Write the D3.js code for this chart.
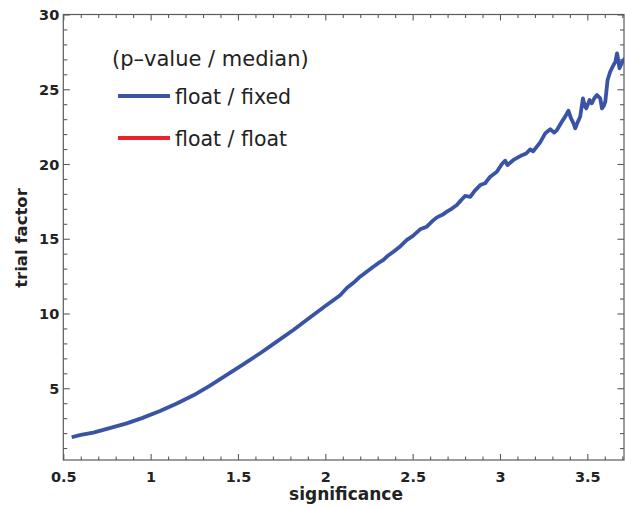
<!DOCTYPE html>
<html>
<head>
<meta charset="utf-8">
<script src="https://cdn.jsdelivr.net/npm/d3@7"></script>
<style>
  html, body { margin: 0; padding: 0; background: #fff; }
  svg { display: block; }
  text { font-family: "DejaVu Sans", sans-serif; fill: #222; }
</style>
</head>
<body>
<svg id="chart" width="625" height="508"></svg>
<script>
// ---------- data ----------
const significance = [0.548,0.60,0.672,0.75,0.863,0.95,1.054,1.15,1.245,1.34,1.436,1.53,1.627,1.72,1.817,1.91,2.008,2.085,2.123,2.161,2.199,2.237,2.275,2.305,2.333,2.36,2.39,2.43,2.467,2.50,2.543,2.581,2.61,2.639,2.67,2.696,2.725,2.753,2.775,2.80,2.83,2.855,2.887,2.915,2.944,2.982,3.011,3.030,3.043,3.077,3.116,3.15,3.173,3.19,3.211,3.23,3.259,3.27,3.288,3.31,3.326,3.354,3.375,3.392,3.405,3.421,3.431,3.445,3.459,3.475,3.485,3.494,3.513,3.526,3.540,3.555,3.574,3.584,3.595,3.603,3.616,3.631,3.650,3.660,3.670,3.678,3.684,3.695,3.704,3.717];
const trialFactor = [1.72,1.88,2.03,2.28,2.65,3.00,3.48,3.98,4.53,5.18,5.89,6.60,7.34,8.10,8.90,9.72,10.57,11.22,11.70,12.05,12.46,12.80,13.13,13.38,13.58,13.88,14.13,14.50,14.92,15.18,15.63,15.81,16.15,16.43,16.60,16.81,17.02,17.26,17.55,17.86,17.80,18.20,18.59,18.71,19.15,19.48,20.00,20.22,19.93,20.27,20.53,20.70,20.98,20.85,21.16,21.45,22.05,22.16,22.32,22.10,22.27,22.83,23.20,23.56,23.10,22.72,22.39,22.80,23.16,24.39,23.90,23.72,24.28,24.06,24.40,24.61,24.39,23.72,23.90,24.17,25.62,26.17,26.62,26.80,27.40,26.90,26.40,26.70,26.91,27.07];
const xTicks = [0.5, 1, 1.5, 2, 2.5, 3, 3.5];
const xTickLabels = ["0.5", "1", "1.5", "2", "2.5", "3", "3.5"];
const yTicks = [5, 10, 15, 20, 25, 30];
const yTickLabels = ["5", "10", "15", "20", "25", "30"];
const legendTitle = "(p\u2013value / median)";
const seriesNames = ["float / fixed", "float / float"];
const seriesColors = ["#3953a5", "#e8222b"];
const xTitle = "significance";
const yTitle = "trial factor";

// ---------- layout ----------
const mLeft = 63.3, mRight = 624, mTop = 14.5, mBottom = 460;
const x = d3.scaleLinear().domain([0.5, 3.71]).range([mLeft, mRight]);
const y = d3.scaleLinear().domain([0.2, 30]).range([mBottom, mTop]);

const svg = d3.select("#chart");
const frameColor = "#5a5a5a";

svg.append("defs").append("clipPath").attr("id", "clip")
  .append("rect").attr("x", mLeft).attr("y", mTop)
  .attr("width", mRight - mLeft).attr("height", mBottom - mTop);

const xMinor = d3.range(0.5, 3.71, 0.1).map(v => +v.toFixed(2)).filter(v => !xTicks.includes(v));
const yMinor = d3.range(1, 30, 1).filter(v => !yTicks.includes(v));

// frame
svg.append("rect").attr("x", mLeft).attr("y", mTop)
  .attr("width", mRight - mLeft).attr("height", mBottom - mTop)
  .attr("fill", "none").attr("stroke", frameColor).attr("stroke-width", 1.2);

const tickStyle = g => {
  g.select(".domain").remove();
  g.selectAll(".tick line").attr("stroke", frameColor).attr("stroke-width", 1.1);
};

svg.append("g").attr("transform", `translate(0,${mBottom})`)
  .call(d3.axisBottom(x).tickValues(xTicks).tickSize(-6).tickPadding(12)
    .tickFormat((d, i) => xTickLabels[i]))
  .call(tickStyle)
  .call(g => g.selectAll(".tick text").attr("font-family", "DejaVu Sans")
    .attr("font-weight", "bold").attr("font-size", "14.5px").attr("fill", "#222")
    .attr("dy", null).attr("y", 21.5));
svg.append("g").attr("transform", `translate(0,${mBottom})`)
  .call(d3.axisBottom(x).tickValues(xMinor).tickSize(-3.5).tickFormat(""))
  .call(tickStyle);
svg.append("g").attr("transform", `translate(0,${mTop})`)
  .call(d3.axisTop(x).tickValues(xTicks).tickSize(-6).tickFormat(""))
  .call(tickStyle);
svg.append("g").attr("transform", `translate(0,${mTop})`)
  .call(d3.axisTop(x).tickValues(xMinor).tickSize(-3.5).tickFormat(""))
  .call(tickStyle);
svg.append("g").attr("transform", `translate(${mLeft},0)`)
  .call(d3.axisLeft(y).tickValues(yTicks).tickSize(-6.5).tickPadding(10)
    .tickFormat((d, i) => yTickLabels[i]))
  .call(tickStyle)
  .call(g => g.selectAll(".tick text").attr("font-family", "DejaVu Sans")
    .attr("font-weight", "bold").attr("font-size", "14.5px").attr("fill", "#222")
    .attr("x", -4).attr("dy", "0.36em"));
svg.append("g").attr("transform", `translate(${mLeft},0)`)
  .call(d3.axisLeft(y).tickValues(yMinor).tickSize(-4).tickFormat(""))
  .call(tickStyle);
svg.append("g").attr("transform", `translate(${mRight},0)`)
  .call(d3.axisRight(y).tickValues(yTicks).tickSize(-6.5).tickFormat(""))
  .call(tickStyle);
svg.append("g").attr("transform", `translate(${mRight},0)`)
  .call(d3.axisRight(y).tickValues(yMinor).tickSize(-4).tickFormat(""))
  .call(tickStyle);

// axis titles
svg.append("text").attr("x", 346).attr("y", 499.5)
  .attr("text-anchor", "middle").attr("font-weight", "bold").attr("font-size", "17px")
  .text(xTitle);
svg.append("text").attr("transform", "translate(27,238) rotate(-90)")
  .attr("text-anchor", "middle").attr("font-weight", "bold").attr("font-size", "16.5px")
  .text(yTitle);

// series line
const data = significance.map((s, i) => ({ s, t: trialFactor[i] }));
const line = d3.line().x(d => x(d.s)).y(d => y(d.t));
svg.append("path").datum(data)
  .attr("clip-path", "url(#clip)")
  .attr("d", line)
  .attr("fill", "none")
  .attr("stroke", seriesColors[0])
  .attr("stroke-width", 3.8)
  .attr("stroke-linejoin", "round")
  .attr("stroke-linecap", "butt");

// legend
const lg = svg.append("g");
lg.append("text").attr("x", 112).attr("y", 66)
  .attr("font-size", "21px").text(legendTitle);
const legendY = [96, 138];
seriesNames.forEach((name, i) => {
  lg.append("line").attr("x1", 118).attr("x2", 170)
    .attr("y1", legendY[i]).attr("y2", legendY[i])
    .attr("stroke", seriesColors[i]).attr("stroke-width", 4);
  lg.append("text").attr("x", 175).attr("y", legendY[i] + 7.5)
    .attr("font-size", "20.5px").text(name);
});
</script>
</body>
</html>
